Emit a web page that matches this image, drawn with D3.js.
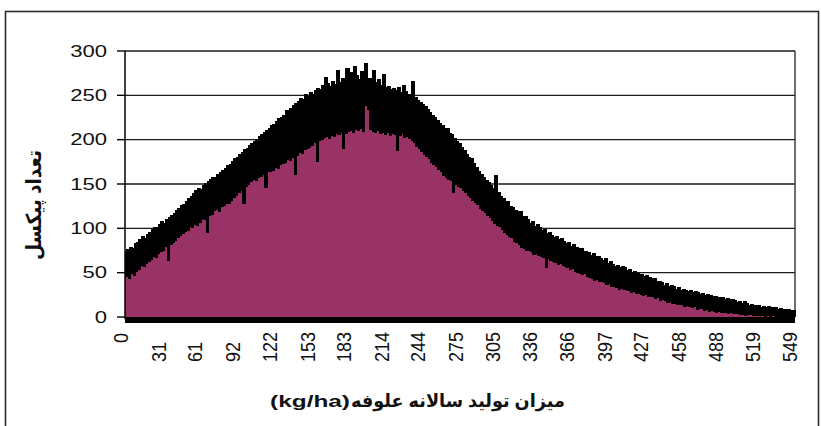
<!DOCTYPE html>
<html>
<head>
<meta charset="utf-8">
<script src="https://cdn.jsdelivr.net/npm/d3@7/dist/d3.min.js"></script>
<style>
  body { margin: 0; background: #fff; }
  svg { display: block; }
</style>
</head>
<body>
<svg id="chart" width="821" height="426"></svg>
<script>
// pixel count for each forage production class 0..549 (kg/ha)
var pixelCounts = [
  74, 45, 77, 43, 79, 48, 78, 46, 84, 51,
  85, 53, 88, 57, 91, 56, 89, 60, 94, 62,
  96, 64, 99, 68, 102, 67, 101, 71, 105, 73,
  108, 74, 106, 79, 111, 63, 113, 81, 115, 84,
  117, 86, 121, 89, 123, 91, 126, 94, 128, 96,
  131, 97, 134, 101, 136, 100, 140, 104, 143, 103,
  146, 106, 144, 110, 149, 109, 151, 95, 153, 114,
  156, 115, 158, 119, 157, 121, 161, 118, 163, 124,
  166, 125, 168, 128, 171, 127, 173, 131, 176, 134,
  179, 136, 181, 140, 184, 142, 186, 128, 189, 147,
  191, 149, 194, 152, 196, 154, 199, 153, 201, 157,
  204, 158, 206, 160, 209, 145, 211, 163, 213, 164,
  216, 165, 218, 168, 221, 167, 224, 171, 226, 172,
  228, 174, 233, 177, 231, 176, 236, 179, 239, 160,
  241, 182, 244, 185, 247, 184, 246, 188, 251, 189,
  249, 191, 254, 193, 252, 196, 256, 175, 258, 198,
  257, 200, 262, 202, 271, 203, 264, 201, 261, 204,
  266, 203, 263, 206, 279, 205, 265, 207, 270, 190,
  267, 206, 281, 209, 269, 210, 276, 208, 283, 211,
  273, 210, 268, 212, 278, 209, 271, 287, 238, 234,
  270, 211, 266, 209, 279, 207, 265, 210, 268, 206,
  262, 208, 274, 205, 259, 207, 261, 204, 257, 206,
  258, 205, 256, 187, 259, 204, 254, 206, 262, 202,
  255, 203, 252, 201, 250, 198, 266, 196, 248, 192,
  245, 189, 243, 186, 240, 183, 238, 181, 235, 178,
  231, 174, 228, 171, 226, 169, 222, 166, 219, 163,
  216, 159, 212, 157, 213, 155, 208, 153, 206, 140,
  202, 149, 199, 147, 196, 145, 192, 142, 188, 140,
  184, 136, 180, 134, 179, 131, 174, 129, 169, 126,
  165, 122, 161, 120, 158, 117, 155, 114, 152, 112,
  149, 108, 145, 105, 160, 103, 141, 101, 137, 98,
  134, 95, 129, 93, 131, 90, 125, 89, 124, 85,
  121, 83, 116, 81, 119, 78, 113, 77, 114, 75,
  110, 74, 106, 73, 108, 70, 103, 71, 105, 69,
  101, 68, 98, 66, 99, 55, 95, 65, 96, 63,
  93, 62, 90, 61, 91, 59, 88, 60, 89, 57,
  86, 56, 83, 55, 85, 53, 80, 54, 82, 51,
  79, 50, 76, 49, 78, 47, 74, 48, 75, 45,
  73, 44, 70, 43, 72, 41, 68, 42, 69, 39,
  67, 39, 64, 38, 66, 36, 61, 37, 63, 34,
  60, 34, 58, 33, 59, 31, 56, 32, 57, 30,
  56, 30, 53, 29, 54, 27, 51, 28, 52, 26,
  50, 26, 48, 25, 49, 24, 46, 25, 47, 22,
  45, 23, 42, 22, 44, 20, 40, 21, 41, 18,
  39, 19, 36, 18, 38, 16, 35, 17, 36, 15,
  35, 15, 32, 14, 34, 13, 31, 14, 32, 11,
  31, 12, 29, 11, 30, 10, 28, 11, 29, 8,
  28, 9, 26, 9, 27, 7, 25, 8, 26, 6,
  25, 7, 23, 6, 24, 5, 22, 6, 23, 4,
  22, 5, 20, 4, 21, 3, 19, 4, 20, 3,
  19, 3, 17, 3, 18, 2, 16, 2, 18, 1,
  16, 2, 14, 2, 15, 1, 13, 1, 14, 1,
  13, 1, 11, 1, 12, 0, 11, 1, 12, 0,
  11, 1, 10, 0, 11, 0, 9, 0, 10, 0,
  9, 0, 8, 0, 9, 0, 8, 0, 8, 0
];
var yTicks = [0, 50, 100, 150, 200, 250, 300];
var xTickLabels = [0, 31, 61, 92, 122, 153, 183, 214, 244, 275, 305, 336, 366, 397, 427, 458, 488, 519, 549];
var xTitleFa = "میزان تولید سالانه علوفه";
var xTitleUnit = "(kg/ha)";
var yTitle = "تعداد پیکسل";

var plot = { left: 125, right: 795, top: 51, bottom: 317 };
var latin = "'Liberation Sans', Arial, 'DejaVu Sans', sans-serif";

var svg = d3.select("#chart");

var x = d3.scaleBand()
  .domain(d3.range(pixelCounts.length))
  .range([plot.left, plot.right])
  .padding(0);
var y = d3.scaleLinear().domain([0, 300]).range([plot.bottom, plot.top]);
var bw = x.bandwidth();

// outer frame
svg.append("rect")
  .attr("x", 5.5).attr("y", 11.5)
  .attr("width", 813).attr("height", 440)
  .attr("fill", "none")
  .attr("stroke", "#2a2a2a")
  .attr("stroke-width", 1.6);

// gridlines + right edge of plot area
svg.append("g")
  .selectAll("line")
  .data(yTicks.filter((d) => d > 0))
  .enter()
  .append("line")
  .attr("x1", plot.left).attr("x2", plot.right)
  .attr("y1", (d) => y(d)).attr("y2", (d) => y(d))
  .attr("stroke", "#1a1a1a")
  .attr("stroke-width", 1.4);

svg.append("line")
  .attr("x1", plot.right).attr("x2", plot.right)
  .attr("y1", y(300)).attr("y2", y(0))
  .attr("stroke", "#333")
  .attr("stroke-width", 1.4);

// bars: black outline reaches the neighbours' tops, fill stays under them
function near(i, f) {
  return f(pixelCounts.slice(Math.max(0, i - 1), i + 2));
}

var bars = svg.append("g").attr("shape-rendering", "crispEdges");

bars.selectAll("rect.edge")
  .data(pixelCounts)
  .enter()
  .append("rect")
  .attr("class", "edge")
  .attr("x", (d, i) => x(i))
  .attr("width", bw + 0.5)
  .attr("y", (d, i) => y(near(i, d3.max)))
  .attr("height", (d, i) => y(0) - y(near(i, d3.max)))
  .attr("fill", "#000");

bars.selectAll("rect.fill")
  .data(pixelCounts)
  .enter()
  .append("rect")
  .attr("class", "fill")
  .attr("x", (d, i) => x(i))
  .attr("width", bw + 0.5)
  .attr("y", (d, i) => y(near(i, d3.min)))
  .attr("height", (d, i) => y(0) - y(near(i, d3.min)))
  .attr("fill", "#993366");

// heavy base line under the bars
svg.append("rect")
  .attr("x", plot.left).attr("y", y(0))
  .attr("width", plot.right - plot.left).attr("height", 6)
  .attr("fill", "#000");

// y axis
svg.append("line")
  .attr("x1", plot.left).attr("x2", plot.left)
  .attr("y1", y(300)).attr("y2", y(0) + 2)
  .attr("stroke", "#000").attr("stroke-width", 1.5);

var yAxis = svg.append("g");
yAxis.selectAll("line")
  .data(yTicks)
  .enter()
  .append("line")
  .attr("x1", plot.left - 8).attr("x2", plot.left)
  .attr("y1", (d) => y(d)).attr("y2", (d) => y(d))
  .attr("stroke", "#000").attr("stroke-width", 1.4);

yAxis.selectAll("text")
  .data(yTicks)
  .enter()
  .append("text")
  .attr("transform", (d) => "translate(107," + y(d) + ") scale(1.38,1)")
  .attr("dy", "0.36em")
  .attr("text-anchor", "end")
  .style("font-family", latin)
  .style("font-size", "16px")
  .attr("fill", "#111")
  .text((d) => d);

// x tick labels (rotated)
svg.append("g")
  .selectAll("text")
  .data(xTickLabels)
  .enter()
  .append("text")
  .attr("transform", (d) => {
    var cx = x(d) + bw / 2 - 4.5;
    var ty = d === 0 ? 333 : 362;
    return "translate(" + cx + "," + ty + ") rotate(-90) scale(1.06,1.15)";
  })
  .attr("dy", "0.36em")
  .attr("text-anchor", (d) => (d === 0 ? "end" : "start"))
  .style("font-family", latin)
  .style("font-size", "17px")
  .attr("fill", "#111")
  .text((d) => d);

// x axis title: unit on the left, persian words to its right
var unit = svg.append("text")
  .attr("text-anchor", "end")
  .style("font-family", latin)
  .style("font-size", "17px")
  .style("font-weight", "bold")
  .attr("fill", "#111")
  .text(xTitleUnit);
var uw = unit.node().getBBox().width;
unit.attr("transform", "translate(350,407) scale(" + 80 / uw + ",1)");

var fa = svg.append("text")
  .attr("direction", "rtl")
  .attr("text-anchor", "end")
  .style("font-family", latin)
  .style("font-size", "16px")
  .style("font-weight", "bold")
  .attr("fill", "#111")
  .text(xTitleFa);
var fw = fa.node().getBBox().width;
fa.attr("transform", "translate(351,407) scale(" + 214 / fw + ",1.15)");

var yt = svg.append("text")
  .attr("text-anchor", "middle")
  .attr("direction", "rtl")
  .style("font-family", latin)
  .style("font-size", "16px")
  .style("font-weight", "bold")
  .attr("fill", "#111")
  .text(yTitle);
var yw = yt.node().getBBox().width;
yt.attr("transform", "translate(41,205) rotate(-90) scale(" + 110 / yw + ",1.3)");
</script>
</body>
</html>
